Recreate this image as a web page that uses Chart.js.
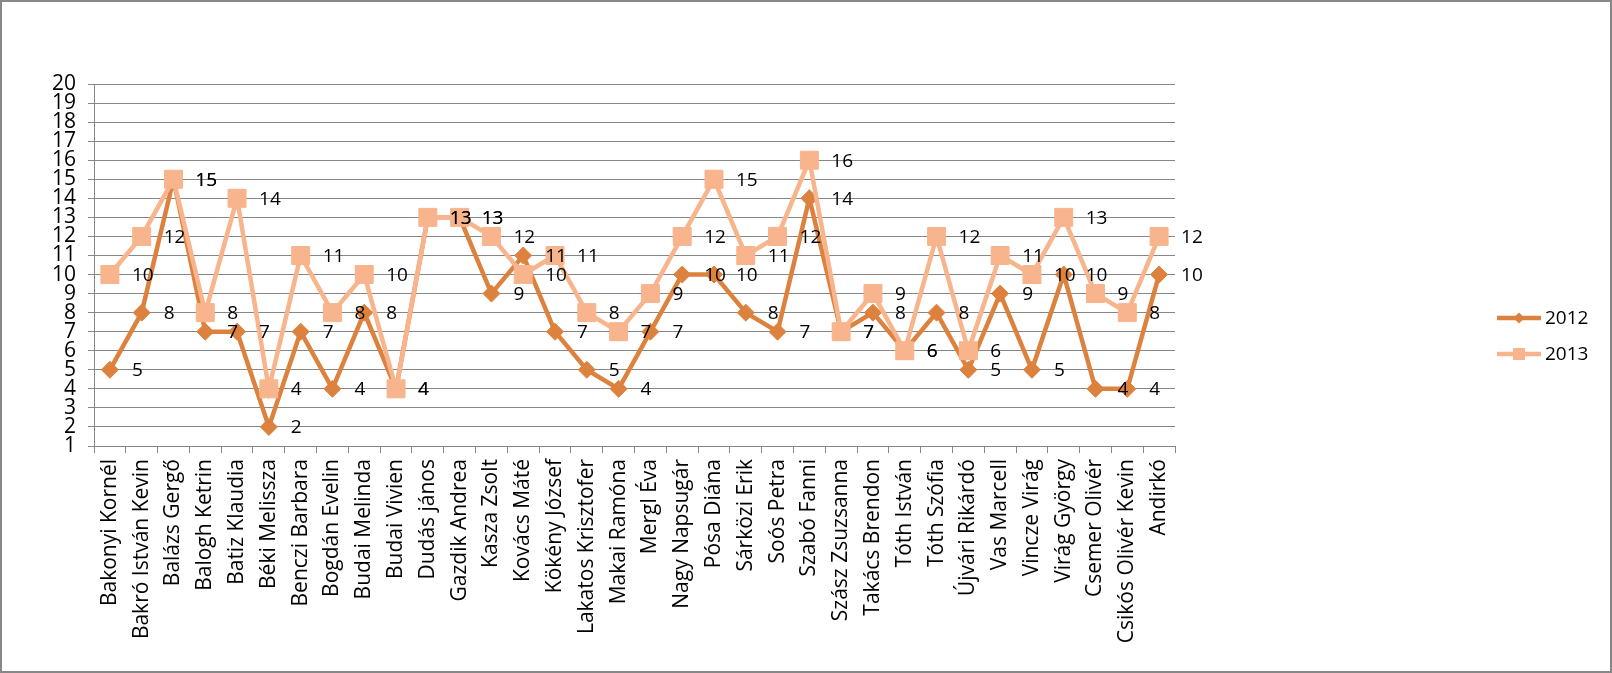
<!DOCTYPE html>
<html>
<head>
<meta charset="utf-8">
<title>2012 / 2013</title>
<script src="https://cdn.jsdelivr.net/npm/chart.js"></script>
<style>
  html, body { margin: 0; padding: 0; background: #fff; }
  #wrap { width: 1612px; height: 673px; }
</style>
</head>
<body>
<div id="wrap"><canvas id="lineChart" width="1612" height="673"></canvas></div>
<script>
const names = [
  'Bakonyi Kornél', 'Bakró István Kevin', 'Balázs Gergő', 'Balogh Ketrin', 'Batiz Klaudia',
  'Béki Melissza', 'Benczi Barbara', 'Bogdán Evelin', 'Budai Melinda', 'Budai Vivien',
  'Dudás jános', 'Gazdik Andrea', 'Kasza Zsolt', 'Kovács Máté', 'Kökény József',
  'Lakatos Krisztofer', 'Makai Ramóna', 'Mergl Éva', 'Nagy Napsugár', 'Pósa Diána',
  'Sárközi Erik', 'Soós Petra', 'Szabó Fanni', 'Szász Zsuzsanna', 'Takács Brendon',
  'Tóth István', 'Tóth Szófia', 'Újvári Rikárdó', 'Vas Marcell', 'Vincze Virág',
  'Virág György', 'Csemer Olivér', 'Csikós Olivér Kevin', 'Andirkó'
];
const scores2012 = [5, 8, 15, 7, 7, 2, 7, 4, 8, 4, 13, 13, 9, 11, 7, 5, 4, 7, 10, 10,
                    8, 7, 14, 7, 8, 6, 8, 5, 9, 5, 10, 4, 4, 10];
const scores2013 = [10, 12, 15, 8, 14, 4, 11, 8, 10, 4, 13, 13, 12, 10, 11, 8, 7, 9, 12, 15,
                    11, 12, 16, 7, 9, 6, 12, 6, 11, 10, 13, 9, 8, 12];
const seriesNames = ['2012', '2013'];
const yMin = 1, yMax = 20;

(function () {
  const DARK = '#DD823E';
  const LIGHT = '#F8B48C';
  const GRID = '#878787';
  const FONT = '"Open Sans", "DejaVu Sans", sans-serif';

  function $(id) { return document.getElementById(id); }

  // values printed to the right of every marker
  const valueLabels = {
    id: 'valueLabels',
    afterDatasetsDraw(chart) {
      const ctx = chart.ctx;
      ctx.save();
      ctx.font = '19px ' + FONT;
      ctx.fillStyle = '#000';
      ctx.textAlign = 'left';
      ctx.textBaseline = 'middle';
      chart.data.datasets.forEach((ds, i) => {
        const meta = chart.getDatasetMeta(i);
        meta.data.forEach((pt, j) => {
          const v = ds.data[j];
          if (v == null) return;
          ctx.fillText(String(v), pt.x + 22, pt.y + 1);
        });
      });
      ctx.restore();
    }
  };

  // legend with a short line and marker, plus the outer frame
  const sideLegend = {
    id: 'sideLegend',
    afterDraw(chart) {
      const ctx = chart.ctx;
      ctx.save();
      const items = [
        { text: seriesNames[0], color: DARK, shape: 'diamond', y: 318 },
        { text: seriesNames[1], color: LIGHT, shape: 'square', y: 354 }
      ];
      items.forEach(it => {
        ctx.strokeStyle = it.color;
        ctx.fillStyle = it.color;
        ctx.lineWidth = 4.5;
        ctx.beginPath();
        ctx.moveTo(1497, it.y);
        ctx.lineTo(1541, it.y);
        ctx.stroke();
        ctx.beginPath();
        if (it.shape === 'diamond') {
          ctx.moveTo(1519, it.y - 5.5);
          ctx.lineTo(1524.5, it.y);
          ctx.lineTo(1519, it.y + 5.5);
          ctx.lineTo(1513.5, it.y);
          ctx.closePath();
        } else {
          ctx.rect(1513, it.y - 6, 12, 12);
        }
        ctx.fill();
        ctx.fillStyle = '#000';
        ctx.font = '19px ' + FONT;
        ctx.textAlign = 'left';
        ctx.textBaseline = 'middle';
        ctx.fillText(it.text, 1545, it.y + 1);
      });
      ctx.strokeStyle = '#878787';
      ctx.lineWidth = 2;
      ctx.strokeRect(1, 1, chart.width - 2, chart.height - 2);
      ctx.restore();
    }
  };

  function init() {
    const ctx = $('lineChart').getContext('2d');
    new Chart(ctx, {
      type: 'line',
      data: {
        labels: names,
        datasets: [
          {
            label: seriesNames[0],
            data: scores2012,
            borderColor: DARK,
            backgroundColor: DARK,
            borderWidth: 4.5,
            tension: 0,
            pointStyle: 'rectRot',
            pointRadius: 8.5,
            pointBorderWidth: 1,
            pointBackgroundColor: DARK,
            pointBorderColor: DARK,
            order: 1
          },
          {
            label: seriesNames[1],
            data: scores2013,
            borderColor: LIGHT,
            backgroundColor: LIGHT,
            borderWidth: 4.5,
            tension: 0,
            pointStyle: 'rect',
            pointRadius: 12.7,
            pointBorderWidth: 1,
            pointBackgroundColor: LIGHT,
            pointBorderColor: LIGHT,
            order: 0
          }
        ]
      },
      options: {
        responsive: false,
        animation: false,
        devicePixelRatio: 1,
        layout: { padding: { top: 84, right: 437, bottom: 0, left: 0 } },
        plugins: {
          legend: { display: false },
          tooltip: { enabled: false }
        },
        scales: {
          x: {
            type: 'category',
            offset: true,
            grid: {
              display: true,
              offset: true,
              drawOnChartArea: false,
              drawTicks: true,
              tickLength: 7,
              color: GRID
            },
            border: { display: true, color: GRID, width: 1 },
            ticks: {
              autoSkip: false,
              maxRotation: 90,
              minRotation: 90,
              padding: 6,
              color: '#000',
              font: { family: FONT, size: 21 }
            },
            afterFit: s => { s.height = 227; }
          },
          y: {
            min: yMin,
            max: yMax,
            grid: { color: GRID, tickLength: 6, drawTicks: true },
            border: { display: true, color: GRID, width: 1 },
            ticks: {
              stepSize: 1,
              autoSkip: false,
              padding: 12,
              color: '#000',
              font: { family: FONT, size: 21 }
            },
            afterFit: s => { s.width = 94; }
          }
        }
      },
      plugins: [valueLabels, sideLegend]
    });
  }

  document.addEventListener('DOMContentLoaded', init);
})();
</script>
</body>
</html>
